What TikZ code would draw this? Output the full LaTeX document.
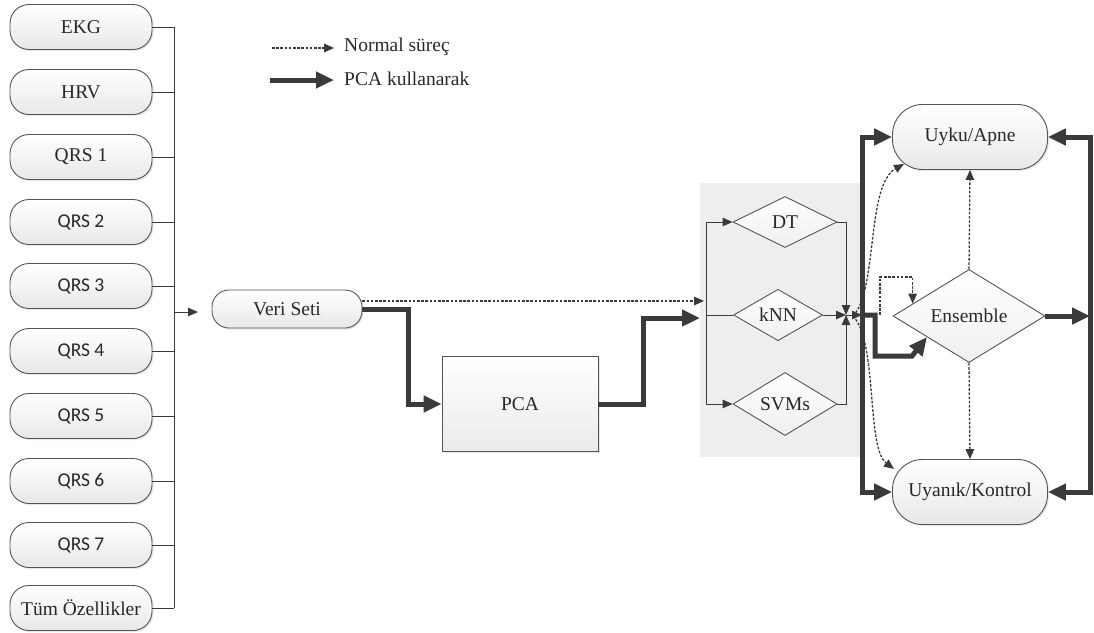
\documentclass[tikz,border=0pt]{standalone}
\usepackage{fontspec}
\setmainfont{Liberation Serif}
\newfontfamily\calib{Carlito}
\usetikzlibrary{arrows.meta,shapes.geometric,calc,shadows}
\definecolor{ln}{HTML}{3A3A3A}
\definecolor{bd}{HTML}{555555}
\definecolor{tx}{HTML}{282828}
\begin{document}
\begin{tikzpicture}[x=1pt,y=-1pt,
  font=\fontsize{19.5}{21}\selectfont, text=tx,
  pill/.style={draw=bd, line width=0.9pt, rounded corners=19pt, top color=white, bottom color=gray!18,
    minimum width=142pt, minimum height=45pt, inner sep=0pt,
    drop shadow={opacity=0.2, shadow xshift=1.5pt, shadow yshift=-1.5pt}},
  dia/.style={diamond, draw=bd, line width=0.9pt, top color=white, bottom color=gray!12, inner sep=0pt},
  thinln/.style={draw=ln, line width=0.9pt},
  thinarr/.style={thinln, -{Triangle[length=10pt,width=8.5pt]}},
  dasharr/.style={draw=ln, line width=1.3pt, dash pattern=on 2.6pt off 1.6pt, -{Triangle[length=10pt,width=8.5pt]}},
  fatln/.style={draw=ln, line width=5pt, line join=miter},
  fatarr/.style={fatln, -{Triangle[length=18pt,width=16pt]}},
]
\useasboundingbox (0,0) rectangle (1094,632);

% legend
\coordinate (la1) at (272,48); \coordinate (la2) at (334,48);
\coordinate (lb1) at (270,80); \coordinate (lb2) at (334,80);
\draw[dasharr] (la1) -- (la2);
\draw[fatarr] (lb1) -- (lb2);
\node[anchor=west, inner sep=0pt] (lt1) at (344,47) {Normal süreç};
\node[anchor=west, inner sep=0pt] (lt2) at (344,79) {PCA kullanarak};

% left feature boxes
\node[pill] (b1) at (81,27) {EKG};
\node[pill] (b2) at (81,92) {HRV};
\node[pill] (b3) at (81,157) {QRS 1};
\node[pill] (b4) at (81,222) {\calib QRS 2};
\node[pill] (b5) at (81,286) {\calib QRS 3};
\node[pill] (b6) at (81,351) {\calib QRS 4};
\node[pill] (b7) at (81,416) {\calib QRS 5};
\node[pill] (b8) at (81,481) {\calib QRS 6};
\node[pill] (b9) at (81,545) {\calib QRS 7};
\node[pill] (b10) at (81,608) {Tüm Özellikler};
\coordinate (bustop) at (174,27);
\coordinate (busbot) at (174,608);
\draw[thinln] (bustop) -- (busbot);
\foreach \i in {1,...,10} {\draw[thinln] (b\i.east) -- (b\i.east -| bustop);}
\coordinate (busout) at (174,312);
\coordinate (vin) at (198,312);
\draw[thinarr] (busout) -- (vin);

% Veri Seti and PCA
\node[pill, minimum width=150pt, minimum height=38pt, rounded corners=17pt] (v) at (287,309) {Veri Seti};
\node[draw=bd, line width=0.9pt, top color=white, bottom color=gray!16, minimum width=156pt, minimum height=95pt,
  drop shadow={opacity=0.2, shadow xshift=1.5pt, shadow yshift=-1.5pt}] (p) at (520,404) {PCA};

% classifier group
\fill[gray!13] (700,183) rectangle (862,457);
\node[dia, minimum width=104pt, minimum height=51pt] (dt) at (785,222) {DT};
\node[dia, minimum width=89pt, minimum height=50pt] (knn) at (778,315) {kNN};
\node[dia, minimum width=104pt, minimum height=52pt] (svm) at (785,404) {SVMs};

\coordinate (cin1) at (704,301);
\coordinate (cin2) at (700,318);
\draw[dasharr] ([yshift=8pt]v.east) -- (cin1);
\draw[fatarr] (v.east) -- (408,309) |- (p.west);
\draw[fatarr] (p.east) -- (643,404) |- (cin2);

\coordinate (ltop) at (706,222);
\coordinate (lbot) at (706,404);
\draw[thinln] (ltop) -- (lbot);
\draw[thinarr] (ltop) -- (dt.west);
\draw[thinarr] (lbot) -- (svm.west);
\draw[thinln] (knn.west -| ltop) -- (knn.west);

\coordinate (J) at (846,315);
\draw[thinarr] (dt.east) -| (J);
\draw[thinarr] (svm.east) -| (J);
\draw[thinarr] (knn.east) -- (J);

% outputs
\node[pill, minimum width=155pt, minimum height=65pt, rounded corners=30pt] (u) at (970,137) {Uyku/Apne};
\node[pill, minimum width=155pt, minimum height=65pt, rounded corners=30pt] (k) at (970,492) {Uyanık/Kontrol};
\node[dia, minimum width=152pt, minimum height=93pt] (e) at (969,316) {Ensemble};

\coordinate (T) at (862,315);
\draw[thinarr] (J) -- (T);
\draw[fatarr] (T) |- (u.west);
\draw[fatarr] (T) |- (k.west);
\draw[fatarr] (T) -- (875,315) -- (875,356) -- (912,356) -- ($(e.west)!0.45!(e.south)$);

\coordinate (D) at (853,316);
\draw[dasharr] (D) .. controls (878,290) and (866,185) .. (904,164);
\draw[dasharr] (D) .. controls (878,342) and (866,448) .. (894,469);
\coordinate (de) at (880,315);
\draw[dasharr] (de) -- (880,277) -| ($(e.west)!0.263!(e.north)$);
\draw[dasharr] (e.north) -- (u.south);
\draw[dasharr] (e.south) -- (k.north);

\coordinate (R) at (1090,316);
\draw[fatarr] (e.east) -- (R);
\draw[fatarr] (R) |- (u.east);
\draw[fatarr] (R) |- (k.east);
\end{tikzpicture}
\end{document}
